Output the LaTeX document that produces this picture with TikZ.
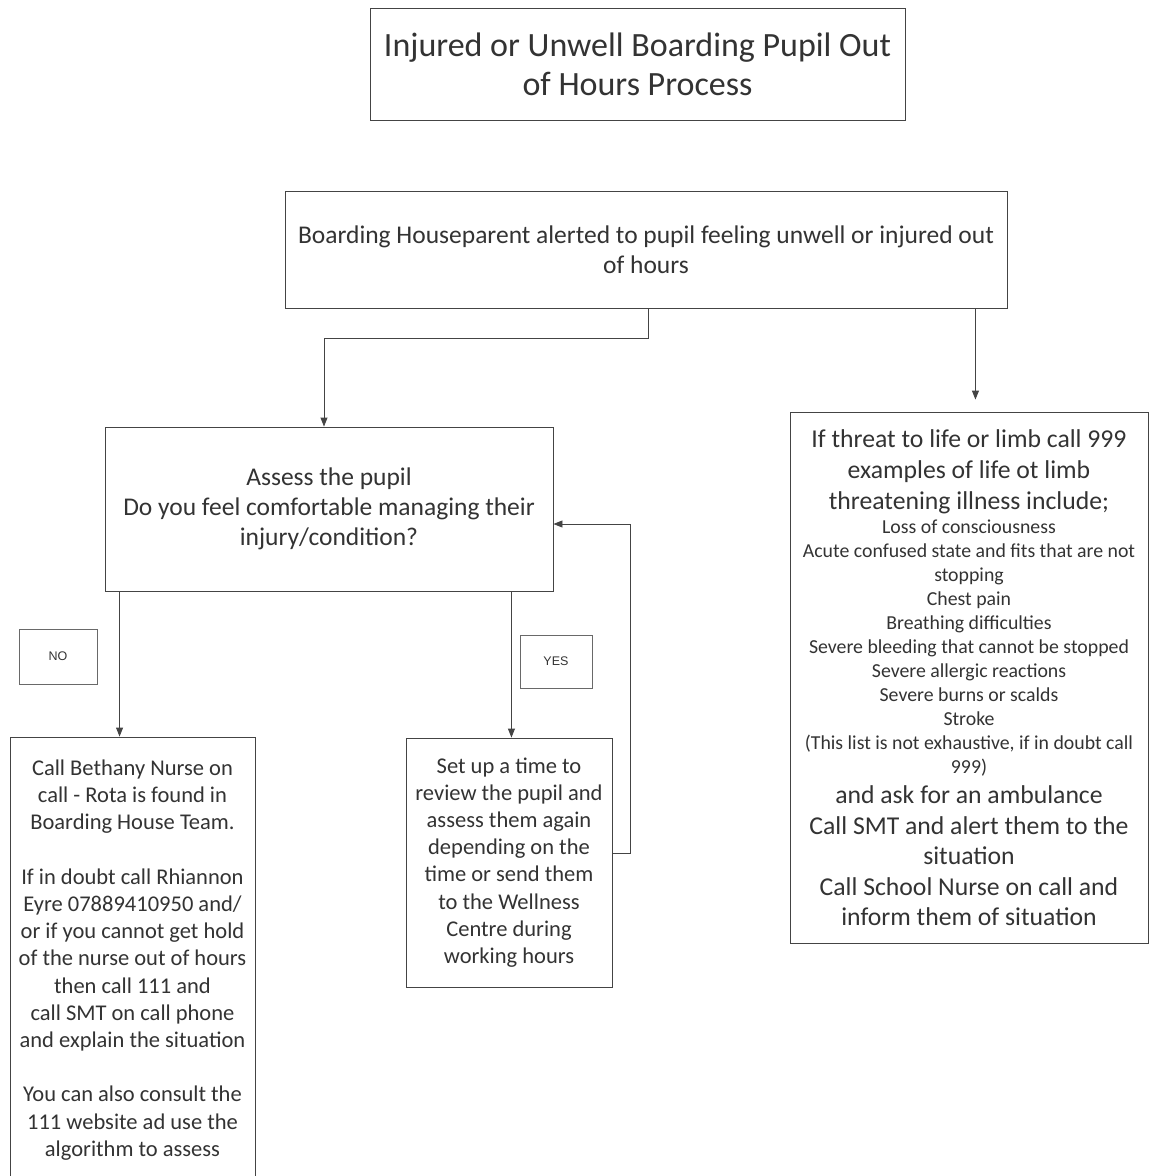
\documentclass[tikz,border=0pt]{standalone}
\usepackage{fontspec}
\setmainfont{Carlito}
\newfontfamily\arialfont{Liberation Sans}
\usetikzlibrary{arrows.meta,calc}
\definecolor{txt}{HTML}{333333}
\definecolor{ln}{HTML}{444444}
\newcommand\fixsp{\spaceskip=\fontdimen2\font\relax\xspaceskip=\fontdimen2\font\relax}
\newcommand\fsz[2]{\fontsize{#1}{#2}\selectfont\fixsp}
\tikzset{
  boxstyle/.style={draw=ln,line width=0.9pt,rectangle,inner sep=0pt,align=center,text=txt,
    execute at begin node={\fixsp}},
  lblbox/.style={draw=ln!80,line width=0.8pt,rectangle,inner sep=0pt,text=txt,font=\arialfont\fontsize{12.5}{14}\selectfont},
  arr/.style={draw=ln,line width=0.9pt,-{Triangle[length=9pt,width=7pt]}},
}
\begin{document}
\begin{tikzpicture}[x=1pt,y=-1pt]
\useasboundingbox (0,0) rectangle (1149,1176);
\fill[white] (0,0) rectangle (1149,1176);

\node[boxstyle,minimum width=535pt,minimum height=112pt,text width=530pt,font=\fontsize{34}{39}\selectfont] (title) at (637.5,64)
  {Injured or Unwell Boarding Pupil Out\\of Hours Process};

\node[boxstyle,minimum width=722pt,minimum height=117pt,text width=715pt,font=\fontsize{25.5}{30}\selectfont] (alert) at (646,249.5)
  {Boarding Houseparent alerted to pupil feeling unwell or injured out\\of hours};

\node[boxstyle,minimum width=448pt,minimum height=164pt,text width=445pt,font=\fontsize{25.5}{30}\selectfont] (assess) at (329,509)
  {Assess the pupil\\Do you feel comfortable managing their\\injury/condition?};

\node[boxstyle,minimum width=358pt,minimum height=531pt,text width=354pt] (threat) at (969,677.5)
  {{\fsz{25.7}{31}If threat to life or limb call 999\\examples of life ot limb\\threatening illness include;\par}
   {\fsz{19.8}{24}Loss of consciousness\\Acute confused state and fits that are not\\stopping\\Chest pain\\Breathing difficulties\\Severe bleeding that cannot be stopped\\Severe allergic reactions\\Severe burns or scalds\\Stroke\\(This list is not exhaustive, if in doubt call\\999)\par}
   {\fsz{25.7}{30.5}and ask for an ambulance\\Call SMT and alert them to the\\situation\\Call School Nurse on call and\\inform them of situation\par}};

\node[lblbox,minimum width=78pt,minimum height=55pt] (no) at (58,656.5) {NO};
\node[lblbox,minimum width=72pt,minimum height=53pt] (yes) at (556,661.5) {YES};

\node[boxstyle,minimum width=245pt,minimum height=446pt,text width=243pt,font=\fontsize{22.5}{27.2}\selectfont] (nurse) at (132.5,960)
  {Call Bethany Nurse on\\call - Rota is found in\\Boarding House Team.\\[27.2pt]If in doubt call Rhiannon\\Eyre 07889410950 and/\\or if you cannot get hold\\of the nurse out of hours\\then call 111 and\\call SMT on call phone\\and explain the situation\\[27.2pt]You can also consult the\\111 website ad use the\\algorithm to assess};

\node[boxstyle,minimum width=206pt,minimum height=249pt,text width=204pt,font=\fontsize{22.5}{27.2}\selectfont] (review) at (509,862.5)
  {Set up a time to\\review the pupil and\\assess them again\\depending on the\\time or send them\\to the Wellness\\Centre during\\working hours};

\draw[arr] ([xshift=2pt]alert.south) -- ++(0,30) -| ([xshift=-5pt]assess.north);
\draw[arr,shorten >=12pt] ([xshift=-32pt]alert.south east) -- ([xshift=-32pt]alert.south east |- threat.north);
\draw[arr] ([xshift=15pt]assess.south west) -- ([xshift=15pt]assess.south west |- nurse.north);
\draw[arr] ([xshift=-42pt]assess.south east) -- ([xshift=-42pt]assess.south east |- review.north);
\draw[arr] ([yshift=9.5pt]review.east) -- ++(18,0) |- ([yshift=-15pt]assess.east);
\end{tikzpicture}
\end{document}
